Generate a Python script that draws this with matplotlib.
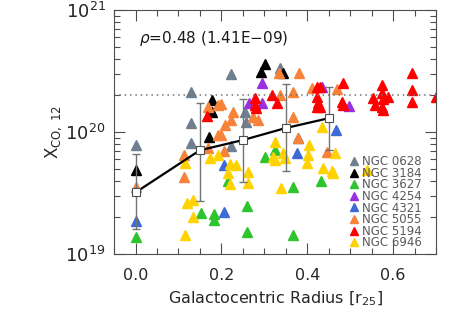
import numpy as np
import matplotlib
matplotlib.use('Agg')
import matplotlib.pyplot as plt
from matplotlib.ticker import LogLocator, MultipleLocator, NullFormatter

plt.rcParams['font.family'] = ['DejaVu Sans']
plt.rcParams['mathtext.fontset'] = 'dejavusans'

# X_CO values in units of 1e20, radius in r25
galaxies = ['NGC 0628', 'NGC 3184', 'NGC 3627', 'NGC 4254',
            'NGC 4321', 'NGC 5055', 'NGC 5194', 'NGC 6946']
colors = ['#6f7f8f', '#000000', '#2ec42e', '#9a2fe0',
          '#3e6ad8', '#f7833a', '#ff0000', '#ffd200']

r_0628 = [0.0, 0.13, 0.13, 0.13, 0.223, 0.223, 0.256, 0.258, 0.337]
x_0628 = [0.78, 2.13, 1.18, 0.81, 2.99, 0.77, 1.46, 1.21, 3.35]

r_3184 = [0.0, 0.179, 0.179, 0.172, 0.302, 0.293, 0.344]
x_3184 = [0.49, 1.83, 1.46, 0.91, 3.61, 3.10, 3.04]

r_3627 = [0.0, 0.153, 0.184, 0.184, 0.216, 0.26, 0.26, 0.302, 0.326, 0.367, 0.367, 0.433]
x_3627 = [0.138, 0.217, 0.213, 0.19, 0.40, 0.247, 0.151, 0.62, 0.71, 0.354, 0.143, 0.40]

r_4254 = [0.295, 0.265, 0.295, 0.435, 0.498]
x_4254 = [2.52, 1.73, 1.73, 2.34, 1.63]

r_4321 = [0.0, 0.207, 0.207, 0.377, 0.379, 0.467]
x_4321 = [0.186, 0.54, 0.221, 0.67, 0.89, 1.04]

r_5055 = [0.0, 0.114, 0.112, 0.17, 0.191, 0.193, 0.17, 0.205, 0.2, 0.226, 0.223,
          0.209, 0.2, 0.274, 0.286, 0.335, 0.381, 0.337, 0.367, 0.367, 0.412,
          0.47, 0.379, 0.447]
x_5055 = [0.354, 0.65, 0.43, 1.60, 1.66, 0.945, 0.74, 0.70, 1.70, 1.46, 1.25,
          1.14, 0.945, 1.33, 1.25, 3.04, 3.04, 2.01, 2.13, 1.33, 2.29,
          2.25, 0.89, 0.69]

r_5194 = [0.167, 0.279, 0.279, 0.281, 0.319, 0.33, 0.423, 0.43, 0.423, 0.426,
          0.423, 0.43, 0.484, 0.481, 0.484, 0.553, 0.558, 0.574, 0.574, 0.577,
          0.588, 0.574, 0.577, 0.644, 0.644, 0.644, 0.70]
x_5194 = [1.35, 1.90, 1.66, 1.57, 2.01, 1.73, 2.34, 2.34, 1.94, 1.73,
          1.60, 1.60, 2.52, 1.76, 1.66, 1.90, 1.66, 2.43, 2.09, 1.86,
          1.94, 1.60, 1.51, 3.04, 2.21, 1.76, 1.94]

r_6946 = [0.174, 0.116, 0.119, 0.133, 0.133, 0.116, 0.191, 0.221, 0.233, 0.216,
          0.219, 0.263, 0.263, 0.321, 0.326, 0.344, 0.349, 0.326, 0.405, 0.402,
          0.40, 0.34, 0.435, 0.465, 0.437, 0.458, 0.46, 0.54]
x_6946 = [0.61, 0.56, 0.26, 0.277, 0.20, 0.143, 0.65, 0.55, 0.54, 0.46,
          0.375, 0.47, 0.38, 0.62, 0.59, 0.67, 0.61, 0.83, 0.78, 0.65,
          0.56, 0.35, 1.10, 0.67, 0.51, 0.48, 0.46, 0.49]

# binned means with range
bin_r = [0.0, 0.15, 0.25, 0.35, 0.45]
bin_mean = [0.32, 0.71, 0.86, 1.08, 1.30]
bin_lo = [0.16, 0.27, 0.39, 0.48, 0.71]
bin_hi = [0.66, 1.73, 1.86, 2.47, 2.34]

galactic_xco = 2.0  # dotted reference line
rho_text = r'$\rho$=0.48 (1.41E$-$09)'


def main():
    radii = [r_0628, r_3184, r_3627, r_4254, r_4321, r_5055, r_5194, r_6946]
    xcos = [x_0628, x_3184, x_3627, x_4254, x_4321, x_5055, x_5194, x_6946]

    fig = plt.figure(figsize=(4.58, 3.27), dpi=100)
    ax = fig.add_axes([0.249, 0.223, 0.703, 0.746])

    for name, col, r, x in zip(galaxies, colors, radii, xcos):
        ax.plot(r, np.array(x) * 1e20, ls='none', marker='^', ms=7.2,
                color=col, mec=col, label=name)

    ax.axhline(galactic_xco * 1e20, color='0.45', ls=(0, (1, 2.5)), lw=1.1)

    mean = np.array(bin_mean) * 1e20
    yerr = [mean - np.array(bin_lo) * 1e20, np.array(bin_hi) * 1e20 - mean]
    ax.errorbar(bin_r, mean, yerr=yerr, fmt='none', ecolor='0.45',
                elinewidth=1.0, capsize=3, capthick=1.0, zorder=4)
    ax.plot(bin_r, mean, color='black', lw=1.6, zorder=5)
    ax.plot(bin_r, mean, ls='none', marker='s', ms=6, mfc='white',
            mec='0.3', mew=0.8, zorder=6)

    ax.set_yscale('log')
    ax.set_xlim(-0.05, 0.70)
    ax.set_ylim(1e19, 1e21)
    ax.xaxis.set_major_locator(MultipleLocator(0.2))
    ax.xaxis.set_minor_locator(MultipleLocator(0.05))
    ax.yaxis.set_major_locator(LogLocator(base=10, numticks=5))
    ax.yaxis.set_minor_locator(LogLocator(base=10, subs=np.arange(2, 10), numticks=20))
    ax.yaxis.set_minor_formatter(NullFormatter())
    ax.tick_params(which='both', direction='in', top=True, right=True, color='0.3')
    ax.tick_params(which='major', length=8, width=0.8)
    ax.tick_params(which='minor', length=4, width=0.8)
    ax.tick_params(axis='x', labelsize=11.5, pad=10, labelcolor='0.15')
    ax.tick_params(axis='y', labelsize=13, pad=6, labelcolor='0.15')
    for s in ax.spines.values():
        s.set_color('0.3')

    ax.set_xlabel(r'Galactocentric Radius [r$_{25}$]', fontsize=11.5, labelpad=5,
                  color='0.15')
    ax.set_ylabel(r'X$_{\rm CO,\ 12}$', fontsize=12, labelpad=1, color='0.15')

    ax.text(0.077, 0.865, rho_text, transform=ax.transAxes, fontsize=11, color='0.1')

    leg = ax.legend(loc='lower right', bbox_to_anchor=(0.972, 0.0), frameon=False,
                    fontsize=8.5, handlelength=0.9, handletextpad=0.3,
                    labelspacing=-0.12, borderaxespad=0.0, markerscale=0.75)
    for t in leg.get_texts():
        t.set_color('0.35')

    fig.savefig('out.png', dpi=100)


if __name__ == '__main__':
    main()
